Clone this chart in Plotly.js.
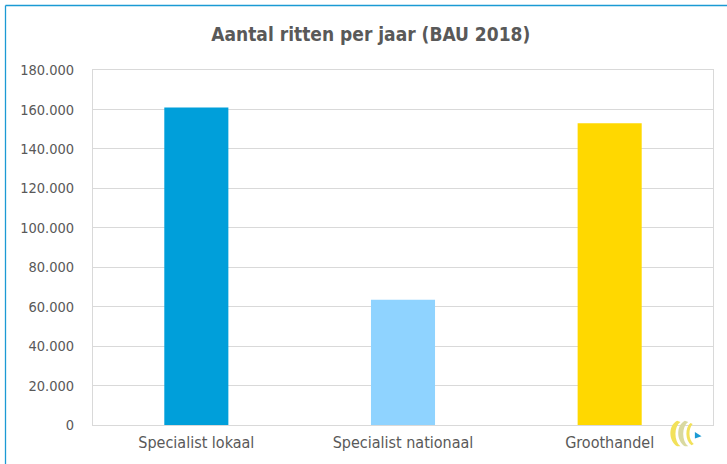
<!DOCTYPE html>
<html><head><meta charset="utf-8">
<script src="https://cdn.plot.ly/plotly-3.0.1.min.js"></script>
<style>
html,body{margin:0;padding:0;background:#fff;}
#wrap{position:relative;width:727px;height:464px;overflow:hidden;}
#chart{position:absolute;left:0;top:0;width:727px;height:464px;}
#frame{position:absolute;left:0;top:0;z-index:10;pointer-events:none;}
#logo{position:absolute;left:666px;top:416px;z-index:11;}
</style></head>
<body>
<div id="wrap"><div id="chart"></div>
<svg id="frame" width="727" height="464">
  <line x1="5.5" y1="5.5" x2="727" y2="5.5" stroke="#1b9ad4" stroke-width="1.3"/>
  <line x1="5.5" y1="5.5" x2="5.5" y2="464" stroke="#1b9ad4" stroke-width="1.3"/>
</svg>
<svg id="logo" width="40" height="34" viewBox="0 0 36 30">
  <path d="M10 4 C2 8 2 22 10 27 L13 27 C7 22 7 9 13 5 Z" fill="#f2e15a"/>
  <path d="M17 4 C9 8 9 22 17 27 L20 27 C14 22 14 9 20 5 Z" fill="#d9d9a0"/>
  <path d="M22 6 C17 10 17 22 23 26 L25 25 C20 21 20 11 24 7 Z" fill="#f2e15a"/>
  <path d="M26 14 L32 18 L26 20 Z" fill="#1b9ad4"/>
</svg>
</div>
<script>
const categories = ["Specialist lokaal", "Specialist nationaal", "Groothandel"];
const values = [161000, 63500, 153000];
const barColors = ["#009fda", "#8fd3ff", "#ffd800"];
const tickVals = [0, 20000, 40000, 60000, 80000, 100000, 120000, 140000, 160000, 180000];

const font = "'DejaVu Sans Condensed', 'DejaVu Sans', sans-serif";
Plotly.newPlot('chart', [{
  type: 'bar', x: categories, y: values,
  marker: {color: barColors, line: {width: 0}},
  hoverinfo: 'none'
}], {
  width: 727, height: 464,
  margin: {l: 93, r: 14, t: 70, b: 39},
  paper_bgcolor: '#fff', plot_bgcolor: '#fff',
  separators: ',.',
  bargap: 0.69,
  showlegend: false,
  title: {text: 'Aantal ritten per jaar (BAU 2018)', font: {family: font, size: 19, color: '#595959', weight: 'bold'}, x: 0.51, xanchor: 'center', y: 0.925, yanchor: 'middle'},
  xaxis: {showgrid: false, showline: true, linecolor: '#d9d9d9', mirror: true, tickfont: {family: font, size: 16, color: '#595959'}, ticks: '', ticklabelstandoff: 3, fixedrange: true},
  yaxis: {range: [0, 180000], tickvals: tickVals, tickformat: ',d', showgrid: true, gridcolor: '#d9d9d9', gridwidth: 1, showline: true, linecolor: '#d9d9d9', mirror: true, zeroline: false, tickfont: {family: font, size: 14.5, color: '#595959'}, ticks: '', ticklabelstandoff: 15, fixedrange: true}
}, {staticPlot: true});
</script>
</body></html>
